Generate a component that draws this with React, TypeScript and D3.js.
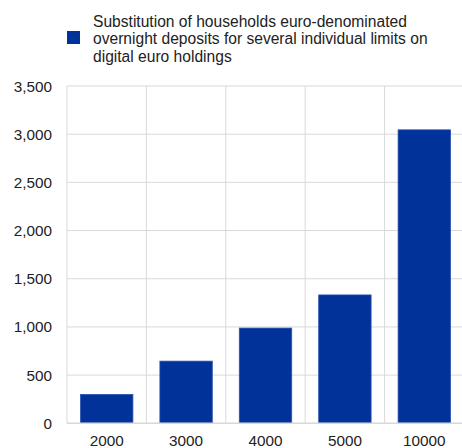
import React, { useEffect, useRef } from 'react';
import * as d3 from 'd3';

const categories = ['2000', '3000', '4000', '5000', '10000'];
const values = [300, 645, 988, 1332, 3045];
const yTicks = [0, 500, 1000, 1500, 2000, 2500, 3000, 3500];
const legendLines = [
  'Substitution of households euro-denominated',
  'overnight deposits for several individual limits on',
  'digital euro holdings',
];

const W = 462;
const H = 448;
const BLUE = '#003299';
const GRID = '#d9d9d9';
const FONT = 'Liberation Sans, Arial, sans-serif';

const App: React.FC = () => {
  const svgRef = useRef<SVGSVGElement>(null);

  useEffect(() => {
    if (!svgRef.current) return;
    const svg = d3.select(svgRef.current);
    svg.selectAll('*').remove();

    const left = 67;
    const right = 464;
    const top = 86;
    const bottom = 423.3;

    const x = d3.scaleBand<string>()
      .domain(categories)
      .range([left, right])
      .paddingInner(0.34)
      .paddingOuter(0.17);
    const y = d3.scaleLinear().domain([0, 3500]).range([bottom, top]);
    const gap = (x.step() * x.paddingInner()) / 2;

    // horizontal grid
    svg.append('g')
      .selectAll('line')
      .data(yTicks)
      .enter()
      .append('line')
      .attr('x1', left)
      .attr('x2', W)
      .attr('y1', d => y(d))
      .attr('y2', d => y(d))
      .style('stroke', GRID)
      .style('stroke-width', 1);

    // vertical grid at band boundaries
    svg.append('g')
      .selectAll('line')
      .data(categories)
      .enter()
      .append('line')
      .attr('x1', d => (x(d) as number) - gap)
      .attr('x2', d => (x(d) as number) - gap)
      .attr('y1', top)
      .attr('y2', bottom)
      .style('stroke', GRID)
      .style('stroke-width', 1);

    // bars
    svg.append('g')
      .selectAll('rect')
      .data(values)
      .enter()
      .append('rect')
      .attr('x', (d, i) => x(categories[i]) as number)
      .attr('width', x.bandwidth())
      .attr('y', d => y(d))
      .attr('height', d => bottom - y(d))
      .style('fill', BLUE)
      .style('stroke', '#2a52b0')
      .style('stroke-width', 0.8);

    // baseline
    svg.append('line')
      .attr('x1', left)
      .attr('x2', W)
      .attr('y1', bottom)
      .attr('y2', bottom)
      .style('stroke', GRID)
      .style('stroke-width', 1.5);

    // y labels
    const fmt = d3.format(',');
    svg.append('g')
      .selectAll('text')
      .data(yTicks)
      .enter()
      .append('text')
      .attr('x', 52)
      .attr('y', d => y(d) + 5.5)
      .attr('text-anchor', 'end')
      .style('font-family', FONT)
      .style('font-size', '15.3px')
      .style('fill', '#222')
      .text(d => fmt(d));

    // x labels
    svg.append('g')
      .selectAll('text')
      .data(categories)
      .enter()
      .append('text')
      .attr('x', d => (x(d) as number) + x.bandwidth() / 2)
      .attr('y', 446)
      .attr('text-anchor', 'middle')
      .style('font-family', FONT)
      .style('font-size', '15.3px')
      .style('fill', '#222')
      .text(d => d);

    // legend
    svg.append('rect')
      .attr('x', 67)
      .attr('y', 31)
      .attr('width', 13)
      .attr('height', 13)
      .style('fill', BLUE);

    svg.append('g')
      .selectAll('text')
      .data(legendLines)
      .enter()
      .append('text')
      .attr('x', 93)
      .attr('y', (d, i) => 26.7 + i * 17.5)
      .style('font-family', FONT)
      .style('font-size', '15.6px')
      .style('fill', '#222')
      .text(d => d);
  }, []);

  return (
    <svg
      ref={svgRef}
      width={W}
      height={H}
      style={{ position: 'absolute', left: 0, top: 0, background: '#fff' }}
    />
  );
};

export default App;
